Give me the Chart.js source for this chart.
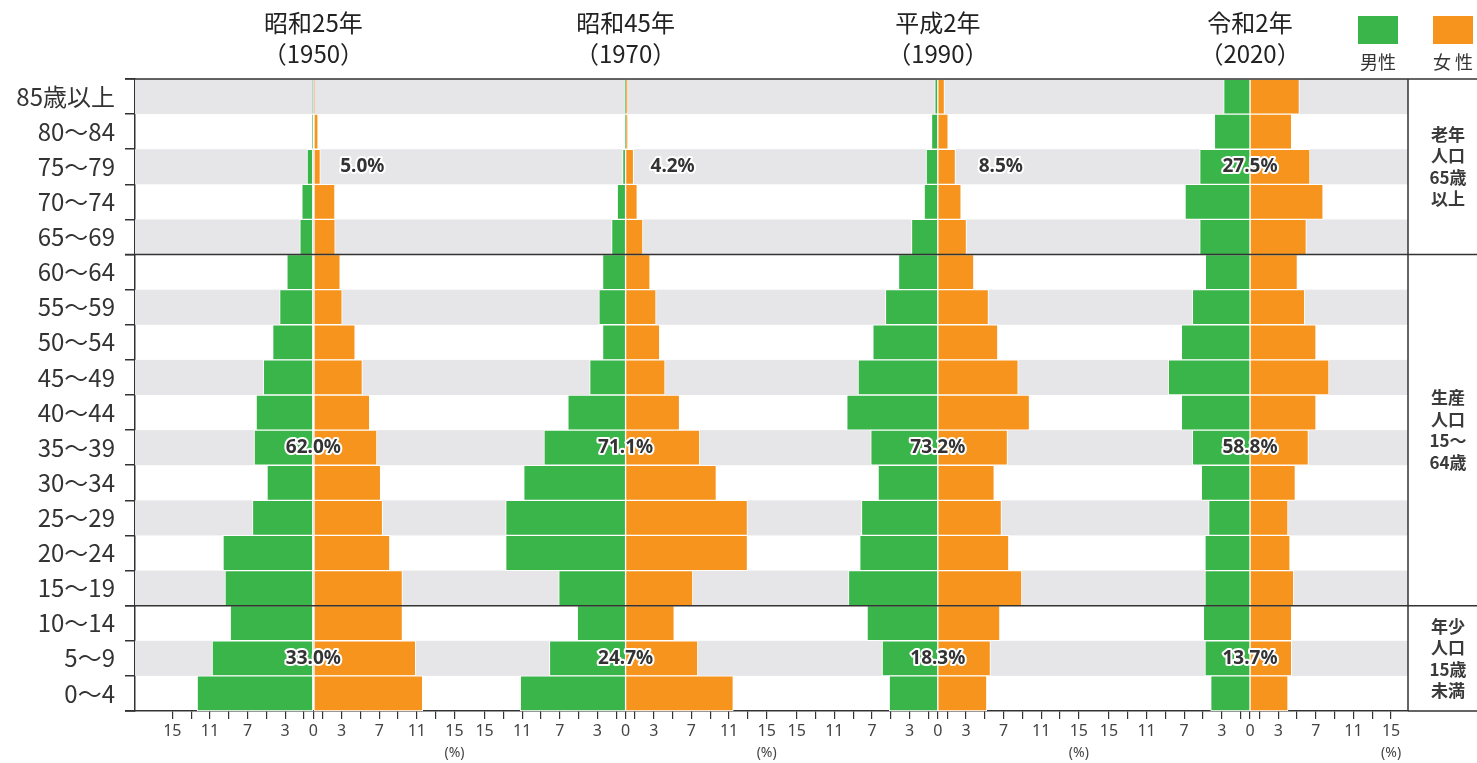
<!DOCTYPE html>
<html lang="ja">
<head>
<meta charset="utf-8">
<title>人口ピラミッドの変化</title>
<script src="https://cdn.jsdelivr.net/npm/chart.js@4.4.0/dist/chart.umd.min.js"></script>
<style>
  html, body { margin: 0; padding: 0; background: #fff; }
  #wrap { width: 1477px; height: 763px; }
</style>
</head>
<body>
<div id="wrap"><canvas id="pyramid" width="1477" height="763"></canvas></div>
<script>
// 年齢階級（上から下へ）
const ageGroups = ['85歳以上', '80～84', '75～79', '70～74', '65～69', '60～64', '55～59', '50～54',
  '45～49', '40～44', '35～39', '30～34', '25～29', '20～24', '15～19', '10～14', '5～9', '0～4'];

const eraLabels = ['昭和25年', '昭和45年', '平成2年', '令和2年'];
const yearLabels = ['（1950）', '（1970）', '（1990）', '（2020）'];

// 男女別・年齢階級別の割合（%）
const male1950   = [0.05, 0.1, 0.67, 1.23, 1.44, 2.82, 3.59, 4.33, 5.32, 6.09, 6.30, 4.93, 6.48, 9.61, 9.40, 8.84, 10.77, 12.36];
const female1950 = [0.1, 0.5, 0.74, 2.29, 2.32, 2.85, 3.06, 4.44, 5.21, 5.99, 6.76, 7.15, 7.36, 8.13, 9.47, 9.47, 10.88, 11.62];
const male1970   = [0.05, 0.05, 0.32, 0.89, 1.49, 2.45, 2.84, 2.45, 3.82, 6.14, 8.68, 10.83, 12.75, 12.75, 7.11, 5.14, 8.10, 11.2];
const female1970 = [0.25, 0.25, 0.85, 1.24, 1.84, 2.60, 3.24, 3.63, 4.20, 5.74, 7.89, 9.65, 12.96, 12.96, 7.15, 5.17, 7.68, 11.45];
const male1990   = [0.32, 0.67, 1.24, 1.45, 2.80, 4.18, 5.57, 6.91, 8.48, 9.68, 7.13, 6.35, 8.12, 8.30, 9.50, 7.52, 5.92, 5.17];
const female1990 = [0.71, 1.10, 1.88, 2.48, 3.05, 3.83, 5.39, 6.38, 8.55, 9.75, 7.41, 6.00, 6.77, 7.55, 8.94, 6.60, 5.60, 5.21];
const male2020   = [2.80, 3.79, 5.35, 6.91, 5.35, 4.75, 6.13, 7.30, 8.69, 7.30, 6.13, 5.18, 4.40, 4.79, 4.79, 4.96, 4.79, 4.18];
const female2020 = [5.25, 4.43, 6.38, 7.77, 5.99, 5.04, 5.82, 7.02, 8.40, 7.02, 6.21, 4.82, 4.04, 4.26, 4.65, 4.43, 4.43, 4.04];

// 年齢3区分の割合
const elderlyShare = ['5.0%', '4.2%', '8.5%', '27.5%'];
const workingShare = ['62.0%', '71.1%', '73.2%', '58.8%'];
const youngShare   = ['33.0%', '24.7%', '18.3%', '13.7%'];

// 目盛
const tickSteps = [0, 1, 3, 5, 7, 9, 11, 13, 15];
const labeledSteps = [0, 3, 7, 11, 15];

const GREEN = '#39b54a';
const ORANGE = '#f7941d';
const BAND = '#e6e6e8';
const INK = '#333';
const FONT = '"Noto Sans CJK JP", "Noto Sans", sans-serif';
const NUM_FONT = '"Noto Sans", "Noto Sans CJK JP", sans-serif';

const PANEL_GAP = 33.2;
const panelCenter = i => i * PANEL_GAP;

const panels = [
  { male: male1950, female: female1950 },
  { male: male1970, female: female1970 },
  { male: male1990, female: female1990 },
  { male: male2020, female: female2020 }
];

const datasets = [];
panels.forEach((p, i) => {
  const c = panelCenter(i);
  datasets.push({
    label: '男性',
    data: p.male.map(v => [c - v, c]),
    backgroundColor: GREEN
  });
  datasets.push({
    label: '女性',
    data: p.female.map(v => [c, c + v]),
    backgroundColor: ORANGE
  });
});

// x軸の目盛位置（各パネルの中心から左右へ）
const tickPositions = [];
panels.forEach((p, i) => {
  tickSteps.forEach(s => {
    tickPositions.push(panelCenter(i) - s);
    if (s !== 0) tickPositions.push(panelCenter(i) + s);
  });
});
tickPositions.sort((a, b) => a - b);

// 1行おきの灰色の帯
const bandPlugin = {
  id: 'bands',
  beforeDatasetsDraw(chart) {
    const { ctx, chartArea, scales } = chart;
    const y = scales.y;
    const h = y.getPixelForValue(1) - y.getPixelForValue(0);
    ctx.save();
    ctx.fillStyle = BAND;
    ageGroups.forEach((g, i) => {
      if (i % 2 === 0) {
        const yc = y.getPixelForValue(i);
        ctx.fillRect(chartArea.left, yc - h / 2, chartArea.right - chartArea.left, h);
      }
    });
    ctx.restore();
  }
};

function haloText(ctx, text, x, y) {
  ctx.lineJoin = 'round';
  ctx.lineWidth = 4;
  ctx.strokeStyle = '#fff';
  ctx.strokeText(text, x, y);
  ctx.fillStyle = INK;
  ctx.fillText(text, x, y);
}

// 枠線・見出し・凡例・区分ラベルなど
const framePlugin = {
  id: 'frame',
  afterDraw(chart) {
    const { ctx, chartArea, scales } = chart;
    const x = scales.x, y = scales.y;
    const W = chart.width;
    const h = y.getPixelForValue(1) - y.getPixelForValue(0);
    const boundary = i => y.getPixelForValue(i) - h / 2;

    ctx.save();
    ctx.strokeStyle = INK;
    ctx.lineWidth = 1.5;
    ctx.beginPath();
    // 上端
    ctx.moveTo(125, chartArea.top); ctx.lineTo(W, chartArea.top);
    // 区分の境界
    [5, 15].forEach(i => {
      ctx.moveTo(125, boundary(i)); ctx.lineTo(W, boundary(i));
    });
    // 下端の延長
    ctx.moveTo(125, chartArea.bottom); ctx.lineTo(chartArea.left, chartArea.bottom);
    ctx.moveTo(chartArea.right, chartArea.bottom); ctx.lineTo(W, chartArea.bottom);
    // 右の仕切り
    ctx.moveTo(chartArea.right, chartArea.top); ctx.lineTo(chartArea.right, chartArea.bottom);
    ctx.stroke();

    // 見出し
    ctx.fillStyle = '#222';
    ctx.textAlign = 'center';
    ctx.textBaseline = 'middle';
    ctx.font = '24px ' + FONT;
    panels.forEach((p, i) => {
      const cx = x.getPixelForValue(panelCenter(i));
      ctx.fillText(eraLabels[i], cx, 23);
      ctx.fillText(yearLabels[i], cx, 54);
    });

    // (%)
    ctx.font = '14px ' + NUM_FONT;
    ctx.fillStyle = '#444';
    panels.forEach((p, i) => {
      ctx.fillText('(%)', x.getPixelForValue(panelCenter(i) + 15), 753);
    });

    // 凡例
    ctx.fillStyle = GREEN;
    ctx.fillRect(1358, 16, 40, 28);
    ctx.fillStyle = ORANGE;
    ctx.fillRect(1433, 16, 40, 28);
    ctx.fillStyle = INK;
    ctx.font = '18px ' + FONT;
    ctx.fillText('男性', 1378, 62);
    ctx.fillText('女 性', 1453, 62);

    // 右側の区分ラベル
    const groups = [
      { lines: ['老年', '人口', '65歳', '以上'], from: 0, to: 4 },
      { lines: ['生産', '人口', '15～', '64歳'], from: 5, to: 14 },
      { lines: ['年少', '人口', '15歳', '未満'], from: 15, to: 17 }
    ];
    ctx.font = 'bold 17px ' + FONT;
    ctx.fillStyle = '#3a3a3a';
    const rx = chartArea.right + 40;
    groups.forEach(g => {
      const cy = (y.getPixelForValue(g.from) + y.getPixelForValue(g.to)) / 2;
      const lh = 21.5;
      g.lines.forEach((t, k) => {
        ctx.fillText(t, rx, cy + (k - 1.5) * lh);
      });
    });

    // 割合ラベル
    ctx.font = 'bold 19px ' + NUM_FONT;
    const elderlyOffset = [5.2, 5.0, 6.7, 0];
    panels.forEach((p, i) => {
      const c = panelCenter(i);
      haloText(ctx, elderlyShare[i], x.getPixelForValue(c + elderlyOffset[i]), y.getPixelForValue(2));
      haloText(ctx, workingShare[i], x.getPixelForValue(c), y.getPixelForValue(10));
      haloText(ctx, youngShare[i], x.getPixelForValue(c), y.getPixelForValue(16));
    });
    ctx.restore();
  }
};

new Chart(document.getElementById('pyramid').getContext('2d'), {
  type: 'bar',
  data: { labels: ageGroups, datasets: datasets },
  options: {
    indexAxis: 'y',
    responsive: false,
    animation: false,
    layout: { padding: { top: 79, right: 69, left: 0, bottom: 0 } },
    datasets: {
      bar: {
        grouped: false,
        barPercentage: 1,
        categoryPercentage: 1,
        borderColor: '#fff',
        borderWidth: 1,
        borderSkipped: false
      }
    },
    plugins: {
      legend: { display: false },
      tooltip: { enabled: false }
    },
    scales: {
      x: {
        type: 'linear',
        min: -18.97,
        max: 116.4,
        afterBuildTicks(scale) {
          scale.ticks = tickPositions.map(v => ({ value: v }));
        },
        afterFit(scale) { scale.height = 52; },
        grid: { drawOnChartArea: false, tickLength: 8, color: INK, lineWidth: 1.2 },
        border: { display: true, color: INK, width: 1.5 },
        ticks: {
          autoSkip: false,
          maxRotation: 0,
          color: '#444',
          padding: 3,
          font: { size: 16, family: NUM_FONT },
          callback: function(value) {
            const i = Math.round(value / PANEL_GAP);
            const d = Math.round(Math.abs(value - panelCenter(i)));
            return labeledSteps.includes(d) ? String(d) : '';
          }
        }
      },
      y: {
        type: 'category',
        offset: true,
        afterFit(scale) { scale.width = 135; },
        grid: { offset: true, drawOnChartArea: false, tickLength: 10, color: INK, lineWidth: 1.5 },
        border: { display: true, color: INK, width: 1.5 },
        ticks: { color: INK, padding: 10, font: { size: 24, family: FONT } }
      }
    }
  },
  plugins: [bandPlugin, framePlugin]
});
</script>
</body>
</html>
